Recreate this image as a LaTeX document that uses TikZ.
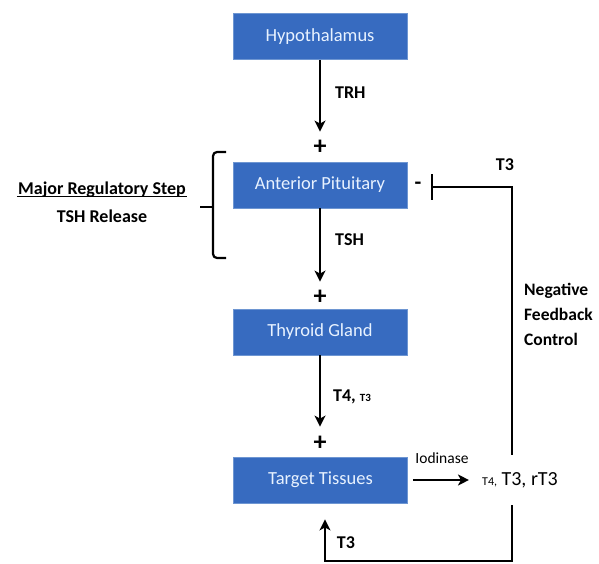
\documentclass[tikz,border=0pt]{standalone}
\usepackage{fontspec}
\setmainfont{Carlito}
\usetikzlibrary{arrows.meta}

\definecolor{boxblue}{RGB}{55,107,192}
\definecolor{boxline}{RGB}{110,150,210}
\definecolor{boxtext}{RGB}{232,242,255}

\begin{document}
\begin{tikzpicture}[x=1pt,y=-1pt,
    box/.style={draw=boxline,line width=0.8pt,fill=boxblue,text=boxtext,
      minimum width=174pt,minimum height=46pt,inner sep=0pt,
      font=\fontsize{18.5}{22}\selectfont},
    lbl/.style={font=\bfseries\fontsize{18}{21}\selectfont,inner sep=1pt},
    sign/.style={font=\bfseries\fontsize{26}{26}\selectfont,inner sep=0pt},
    arr/.style={line width=2.2pt,-{Stealth[length=11pt,width=11pt,inset=3pt]}},
    wire/.style={line width=2.2pt}]
  \useasboundingbox (0,0) rectangle (599,564);

  % the four organs
  \node[box] (hypo) at (320,36.5) {Hypothalamus};
  \node[box] (ant) at (320,185) {Anterior Pituitary};
  \node[box] (thy) at (320,332) {Thyroid Gland};
  \node[box] (tgt) at (320.5,480) {Target Tissues};

  % plus signs above the boxes
  \node[sign] (p1) at (320,147) {+};
  \node[sign] (p2) at (320,297) {+};
  \node[sign] (p3) at (320,443) {+};

  \draw[arr,shorten >=8pt] (hypo) -- (p1);
  \draw[arr,shorten >=8pt] (ant) -- (p2);
  \draw[arr,shorten >=9pt] (thy) -- (p3);

  \node[lbl,anchor=west] (trh) at (334,93) {TRH};
  \node[lbl,anchor=west] (tsh) at (334,240) {TSH};
  \node[lbl,anchor=west] (t4t3) at (332,397) {T4, {\fontsize{11}{11}\selectfont T3}};

  % major step bracket
  \draw[wire,rounded corners=4pt] (226,152) -- (213,152) -- (213,258) -- (226,258);
  \draw[wire] (200,207) -- (213,207);
  \node[lbl] (major) at (102,190) {Major Regulatory Step};
  \draw[line width=1.1pt] ([yshift=-2pt]major.base west) -- ([yshift=-2pt]major.base east);
  \node[lbl] (tshrel) at (102,216) {TSH Release};

  % iodinase step
  \node[font=\fontsize{20}{22}\selectfont,minimum height=50pt,inner sep=3pt] (prod) at (520,480)
    {{\fontsize{12}{12}\selectfont T4,} T3, rT3};
  \draw[arr,shorten <=5pt,shorten >=10pt] (tgt) -- (prod);
  \node[font=\fontsize{15.5}{17}\selectfont] (iod) at (442,458) {Iodinase};

  % negative feedback loop
  \node[font=\bfseries\fontsize{22}{22}\selectfont,inner sep=1pt] (minus) at (418,186) {-};
  \coordinate (fbtop) at (512,187);
  \coordinate (bar) at (431,187);
  \coordinate (fbbottom) at (512,561);
  \draw[wire,-{Bar[width=25pt]}] (prod.north -| fbtop) -- (fbtop) -- (bar);
  \draw[arr,shorten >=16pt] (prod.south -| fbtop) -- (fbbottom) -| ([xshift=4.5pt]tgt.south);
  \node[lbl] (t3top) at (505,165) {T3};
  \node[lbl] (t3low) at (346,543) {T3};
  \node[lbl,anchor=west,align=left,font=\bfseries\fontsize{17.5}{25}\selectfont] (nfc) at (523,314)
    {Negative\\Feedback\\Control};
\end{tikzpicture}
\end{document}
